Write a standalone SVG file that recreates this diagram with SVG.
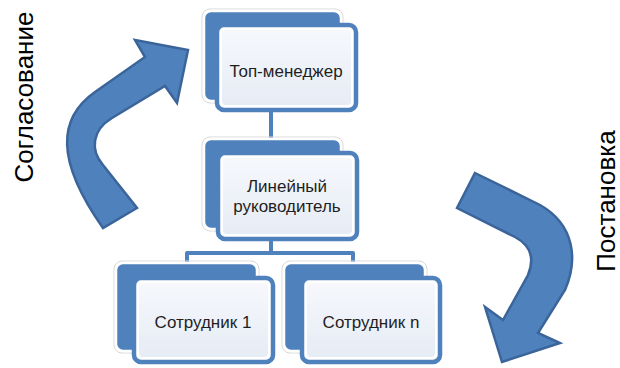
<svg xmlns="http://www.w3.org/2000/svg" width="620" height="368" viewBox="0 0 620 368">
<defs>
<linearGradient id="fg" x1="0" y1="0" x2="0" y2="1">
<stop offset="0" stop-color="#f6f8fc"/>
<stop offset="1" stop-color="#e6ecf5"/>
</linearGradient>
<style>
.back{fill:#4f81bd;stroke:#ffffff;stroke-width:2.5}
.halo{fill:none;stroke:#d9d9d9;stroke-width:1}
.front{fill:#ffffff;stroke:#4f81bd;stroke-width:4.5}
.inner{fill:url(#fg)}
.conn{fill:none;stroke:#4f81bd;stroke-width:4;stroke-linejoin:round}
.lbl{font-family:"Liberation Sans",Arial,sans-serif;font-size:17px;fill:#1f1f1f;text-anchor:middle}
.side{font-family:"Liberation Sans",Arial,sans-serif;font-size:26px;fill:#000;text-anchor:middle}
.arrow{fill:#4f81bd;stroke:#3b659a;stroke-width:2.5;stroke-linejoin:miter}
</style>
</defs>
<rect width="620" height="368" fill="#ffffff"/>
<g id="connectors">
<line class="conn" x1="271" y1="100" x2="271" y2="142"/>
<polyline class="conn" points="271,230 271,253 187,253 187,264"/>
<polyline class="conn" points="271,253 353,253 353,264"/>
</g>
<g id="node-top">
<rect class="halo" x="202" y="9" width="141" height="94" rx="8"/>
<rect class="back" x="204" y="11" width="137" height="90" rx="7"/>
<rect class="front" x="217" y="25" width="139" height="85" rx="7"/>
<rect class="inner" x="222" y="30" width="129" height="75" rx="4"/>
<text class="lbl" x="286" y="77">Топ-менеджер</text>
</g>
<g id="node-mid">
<rect class="halo" x="202" y="137" width="141" height="94" rx="8"/>
<rect class="back" x="204" y="139" width="137" height="90" rx="7"/>
<rect class="front" x="218" y="153" width="139" height="86" rx="7"/>
<rect class="inner" x="223" y="158" width="129" height="76" rx="4"/>
<text class="lbl" x="287" y="192">Линейный</text>
<text class="lbl" x="287" y="212">руководитель</text>
</g>
<g id="node-emp1">
<rect class="halo" x="114" y="261" width="145" height="92" rx="8"/>
<rect class="back" x="116" y="263" width="141" height="88" rx="7"/>
<rect class="front" x="134" y="278" width="139" height="84" rx="7"/>
<rect class="inner" x="139" y="283" width="129" height="74" rx="4"/>
<text class="lbl" x="203" y="328">Сотрудник 1</text>
</g>
<g id="node-empn">
<rect class="halo" x="282" y="261" width="145" height="92" rx="8"/>
<rect class="back" x="284" y="263" width="141" height="88" rx="7"/>
<rect class="front" x="302" y="278" width="138" height="84" rx="7"/>
<rect class="inner" x="307" y="283" width="128" height="74" rx="4"/>
<text class="lbl" x="371" y="328">Сотрудник n</text>
</g>
<g id="arrow-left">
<path class="arrow" d="M103,228 C55,160 58,118 95,92 L145,57 L135,40 L188,50 L177,103 L165,86 L112,118 C92,130 90,150 103,165 L137,208 Z"/>
</g>
<g id="arrow-right">
<path class="arrow" d="M475,173 L540,205 C575,225 578,260 565,290 L538,333 L560,343 L502,362 L485,307 L503,320 L528,275 C535,258 530,245 515,237 L457,208 Z"/>
</g>
<text class="side" transform="translate(33,97) rotate(-90)">Согласование</text>
<text class="side" transform="translate(615,201) rotate(-90)">Постановка</text>
</svg>
